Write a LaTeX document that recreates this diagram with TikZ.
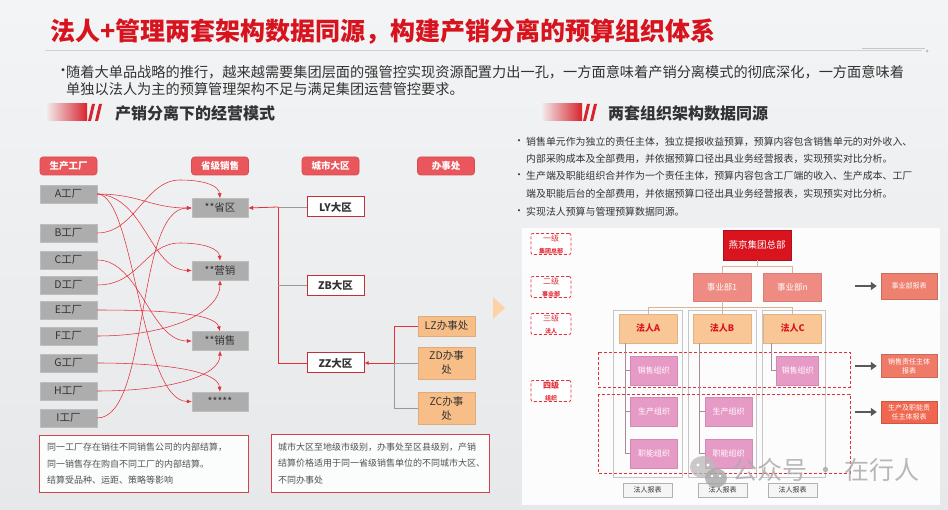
\documentclass[tikz,border=0pt]{standalone}
\usepackage{fontspec}
\setmainfont{Noto Sans CJK SC}
\usetikzlibrary{arrows.meta,shapes.geometric}
\newcommand\myfs[2]{\fontsize{#1}{#2}\selectfont}
\definecolor{bgtop}{HTML}{F3F4F5}
\definecolor{bgbot}{HTML}{E6E8EA}
\definecolor{titlered}{HTML}{D7131E}
\definecolor{headred}{HTML}{D8232D}
\definecolor{pillred}{HTML}{E9575D}
\definecolor{pillborder}{HTML}{D94A50}
\definecolor{boxgray}{HTML}{ADADAD}
\definecolor{textdark}{HTML}{333333}
\definecolor{citybord}{HTML}{C0303A}
\definecolor{offorange}{HTML}{F8BE87}
\definecolor{flred}{HTML}{E3303B}
\definecolor{notered}{HTML}{D6404A}
\definecolor{hqred}{HTML}{D9141F}
\definecolor{busalmon}{HTML}{EE8C84}
\definecolor{lporange}{HTML}{F9C796}
\definecolor{pinkorg}{HTML}{E69AC6}
\definecolor{treetan}{HTML}{D8B596}
\definecolor{rep1}{HTML}{EE8070}
\definecolor{rep2}{HTML}{EF7A68}
\definecolor{rep3}{HTML}{F0664E}
\tikzset{
  pill/.style={rectangle, rounded corners=3pt, fill=pillred, draw=pillborder, line width=0.6pt, text=white, font=\myfs{9.5}{11}\bfseries, minimum width=57pt, minimum height=18pt, inner sep=0pt},
  fac/.style={rectangle, fill=boxgray, draw=boxgray!80!white, text=textdark, font=\myfs{10.5}{12}, minimum width=57pt, minimum height=18pt, inner sep=0pt},
  sal/.style={fac, minimum width=56pt, minimum height=19pt},
  city/.style={rectangle, fill=white, draw=citybord, line width=1pt, font=\myfs{10.5}{12}\bfseries, text=textdark, minimum width=57pt, minimum height=20pt, inner sep=0pt},
  off/.style={rectangle, fill=offorange, draw=offorange!90!black, text=textdark, font=\myfs{10.5}{14}, minimum width=57pt, inner sep=0pt, align=center},
  fl/.style={draw=flred, line width=0.55pt, -{Latex[length=5pt,width=4pt]}},
  redl/.style={draw=flred, line width=0.8pt},
  grayl/.style={draw=gray!80, line width=0.8pt},
  note/.style={rectangle, draw=notered, line width=0.9pt, fill=white!70!bgtop, inner sep=0pt},
  notetext/.style={anchor=west, align=left, inner sep=0pt, text=textdark!85, font=\myfs{9}{16.5}},
  txt/.style={anchor=west, inner sep=0pt, text=textdark},
  lvl/.style={rectangle, rounded corners=2pt, draw=flred, densely dashed, line width=0.8pt, fill=white, text=flred, align=center, minimum width=40pt, minimum height=21pt, inner sep=0pt},
  hq/.style={rectangle, fill=hqred, draw=hqred!80!black, text=white, font=\myfs{9.5}{11}, minimum width=68pt, minimum height=30pt, inner sep=0pt},
  bu/.style={rectangle, fill=busalmon, draw=busalmon!90!black, text=white, font=\myfs{8.5}{10}, minimum width=58pt, minimum height=28pt, inner sep=0pt},
  lp/.style={rectangle, fill=lporange, draw=lporange!90!black, text=hqred, font=\myfs{9}{10}\bfseries, minimum width=58pt, minimum height=29pt, inner sep=0pt},
  pk/.style={rectangle, fill=pinkorg, draw=pinkorg!90!black, text=white, font=\myfs{8}{9}, minimum width=47pt, minimum height=29pt, inner sep=0pt},
  col/.style={draw=gray!45, line width=0.7pt},
  rdash/.style={draw=flred, densely dashed, line width=0.7pt},
  lrep/.style={rectangle, fill=gray!8, draw=gray!60, text=textdark, font=\myfs{7}{8}, minimum width=49pt, minimum height=14pt, inner sep=0pt},
  rep/.style={rectangle, draw=#1!85!black, fill=#1, text=white, font=\myfs{7}{9}, align=center, minimum width=56pt, inner sep=0pt},
  rarrow/.style={draw=gray!70!black, line width=2.6pt, -{Triangle[length=6pt,width=8pt]}, shorten >=4pt},
  tree/.style={draw=treetan, line width=0.8pt},
  orgl/.style={draw=gray!60!pinkorg, line width=0.8pt}
}
\begin{document}
\begin{tikzpicture}[x=1pt,y=-1pt]
\useasboundingbox (0,0) rectangle (948,510);
\shade[top color=bgtop, bottom color=bgbot] (0,0) rectangle (948,510);

% title
\node[txt, text=titlered, font=\myfs{25}{28}\bfseries] (title) at (50,32) {法人+管理两套架构数据同源，构建产销分离的预算组织体系};
\draw[gray!35, line width=1pt] (45,51) -- (922,51);
\draw[gray!45, line width=0.8pt] (862,48) -- (925,48);
\fill[gray!50] (927,51) circle (1.5);

% intro bullet
\node[txt, font=\myfs{14}{16}] (b0) at (56,72) {•};
\node[txt, font=\myfs{14.2}{16}] (b1) at (66,72) {随着大单品战略的推行，越来越需要集团层面的强管控实现资源配置力出一孔，一方面意味着产销分离模式的彻底深化，一方面意味着};
\node[txt, font=\myfs{14.2}{16}] (b2) at (66,89) {单独以法人为主的预算管理架构不足与满足集团运营管控要求。};

% section headers
\shade[left color=bgtop, right color=headred] (45,104) rectangle (87,121);
\fill[headred] (88,121) -- (92,104) -- (95,104) -- (91,121) -- cycle;
\fill[headred] (95,121) -- (99,104) -- (102,104) -- (98,121) -- cycle;
\node[txt, font=\myfs{16}{18}\bfseries] (s1) at (115,113) {产销分离下的经营模式};
\shade[left color=bgtop, right color=headred] (540,104) rectangle (582,121);
\fill[headred] (583,121) -- (587,104) -- (590,104) -- (586,121) -- cycle;
\fill[headred] (590,121) -- (594,104) -- (597,104) -- (593,121) -- cycle;
\node[txt, font=\myfs{16}{18}\bfseries] (s2) at (608,113) {两套组织架构数据同源};

% left diagram headers
\node[pill] (h1) at (68.5,166) {生产工厂};
\node[pill] (h2) at (220,166) {省级销售};
\node[pill] (h3) at (330.5,166) {城市大区};
\node[pill] (h4) at (446,166) {办事处};

% factories
\node[fac] (fA) at (68.5,194) {A工厂};
\node[fac] (fB) at (68.5,233) {B工厂};
\node[fac] (fC) at (68.5,260) {C工厂};
\node[fac] (fD) at (68.5,285) {D工厂};
\node[fac] (fE) at (68.5,310) {E工厂};
\node[fac] (fF) at (68.5,336) {F工厂};
\node[fac] (fG) at (68.5,363) {G工厂};
\node[fac] (fH) at (68.5,391) {H工厂};
\node[fac] (fI) at (68.5,418) {I工厂};

% sales
\node[sal] (sheng) at (220,208) {**省区};
\node[sal] (ying) at (220,270.5) {**营销};
\node[sal] (xiao) at (220,341) {**销售};
\node[sal] (star) at (220,401.5) {*****};

% factory -> sales curves
\draw[fl] (fA.east) .. controls (140,194) and (150,208) .. (sheng.west);
\draw[fl] (fA.east) .. controls (145,196) and (150,270) .. (ying.west);
\draw[fl] (fA.east) .. controls (135,194) and (140,401) .. (star.west);
\draw[fl] (fB.east) .. controls (135,233) and (145,180) .. (180,180) .. controls (205,180) and (219,186) .. (sheng.north);
\draw[fl] (fC.east) .. controls (140,260) and (150,341) .. (xiao.west);
\draw[fl] (fD.east) .. controls (140,285) and (145,243) .. (180,243) .. controls (205,243) and (219,249) .. (ying.north);
\draw[fl] (fE.east) .. controls (160,310) and (215,313) .. (xiao.north);
\draw[fl] (fF.east) .. controls (170,336) and (220,312) .. (ying.south);
\draw[fl] (fG.east) .. controls (160,363) and (218,370) .. (star.north);
\draw[fl] (fH.east) .. controls (170,391) and (220,376) .. (xiao.south);
\draw[fl] (fI.east) .. controls (150,418) and (135,208) .. (sheng.west);

% cities
\node[city] (LY) at (335.5,207) {LY大区};
\node[city] (ZB) at (335.5,285.5) {ZB大区};
\node[city] (ZZ) at (335.5,363) {ZZ大区};
\coordinate (c1) at (278,207);
\coordinate (c3) at (278,363);
\draw[grayl] (LY.west) -- (c1);
\draw[redl, -{Latex[length=5pt,width=4.5pt]}] (c1) -- (sheng.east);
\draw[redl] (c1) -- (c3);
\draw[grayl] (ZB.west) -- (ZB.west -| c1);
\draw[redl] (ZZ.west) -- (c3);

% offices
\node[off, minimum height=20pt] (LZ) at (446.5,326) {LZ办事处};
\node[off, minimum height=32pt] (ZD) at (446.5,363) {ZD办事\\处};
\node[off, minimum height=32pt] (ZC) at (446.5,408.5) {ZC办事\\处};
\coordinate (o1) at (394,326);
\coordinate (o2) at (394,363);
\coordinate (o3) at (394,408.5);
\draw[redl] (LZ.west) -- (o1) -- (o2);
\draw[grayl] (o2) -- (o3) -- (ZC.west);
\draw[grayl] (ZD.west) -- (o2);
\draw[redl, -{Latex[length=4pt,width=4pt]}] (o2) -- (ZZ.east);

% notes
\node[note, minimum width=209pt, minimum height=57pt, anchor=north west] (n1) at (39,435) {};
\node[notetext] (n1t) at ([xshift=8pt]n1.west) {同一工厂存在销往不同销售公司的内部结算，\\同一销售存在购自不同工厂的内部结算。\\结算受品种、运距、策略等影响};
\node[note, minimum width=218pt, minimum height=58pt, anchor=north west] (n2) at (271,434) {};
\node[notetext] (n2t) at ([xshift=7pt]n2.west) {城市大区至地级市级别，办事处至区县级别，产销\\结算价格适用于同一省级销售单位的不同城市大区、\\不同办事处};

% middle chevron
\fill[orange!35] (493,297) -- (505,308) -- (493,319) -- cycle;

% right bullets
\node[txt, font=\myfs{10}{12}] (rb1d) at (514,142) {•};
\node[txt, font=\myfs{9.9}{12}] (rb1) at (526,142) {销售单元作为独立的责任主体，独立提报收益预算，预算内容包含销售单元的对外收入、};
\node[txt, font=\myfs{9.9}{12}] (rb2) at (526,159) {内部采购成本及全部费用，并依据预算口径出具业务经营报表，实现预实对比分析。};
\node[txt, font=\myfs{10}{12}] (rb3d) at (514,176) {•};
\node[txt, font=\myfs{9.9}{12}] (rb3) at (526,176) {生产端及职能组织合并作为一个责任主体，预算内容包含工厂端的收入、生产成本、工厂};
\node[txt, font=\myfs{9.9}{12}] (rb4) at (526,194) {端及职能后台的全部费用，并依据预算口径出具业务经营报表，实现预实对比分析。};
\node[txt, font=\myfs{10}{12}] (rb5d) at (514,212) {•};
\node[txt, font=\myfs{9.9}{12}] (rb5) at (526,212) {实现法人预算与管理预算数据同源。};

% right panel
\fill[white!75!bgtop] (522,228) rectangle (940,505);

% level labels
\node[lvl] (l1) at (551,244) {{\myfs{8}{9}一级}\\{\myfs{6}{7}\bfseries 集团总部}};
\node[lvl] (l2) at (551,287) {{\myfs{8}{9}二级}\\{\myfs{6}{7}\bfseries 事业部}};
\node[lvl] (l3) at (551,324) {{\myfs{8}{9}三级}\\{\myfs{6}{7}\bfseries 法人}};
\node[lvl] (l4) at (551,391) {{\myfs{8}{9}\bfseries 四级}\\{\myfs{6}{7}\bfseries 组织}};

% column frames and dashed rows
\draw[col] (613,310) rectangle (682,477);
\draw[col] (688,310) rectangle (756,477);
\draw[col] (762,310) rectangle (825,477);
\draw[rdash] (598,352) rectangle (850,387);
\draw[rdash] (598,394) rectangle (850,473);

% org tree
\node[hq] (hq) at (757,245) {燕京集团总部};
\node[bu] (bu1) at (722,287) {事业部1};
\node[bu] (bun) at (792.5,287) {事业部n};
\node[lp] (la) at (648,328.5) {法人A};
\node[lp] (lb) at (722,328.5) {法人B};
\node[lp] (lc) at (792.5,328.5) {法人C};
\coordinate (j1) at (757,266);
\coordinate (j2) at (722,307);
\draw[tree] (hq.south) -- (j1);
\draw[tree] (bu1.north) -- (bu1.north |- j1) -- (bun.north |- j1) -- (bun.north);
\draw[tree] (bu1.south) -- (lb.north);
\draw[tree] (la.north) -- (la.north |- j2) -- (lc.north |- j2) -- (lc.north);

\node[pk] (sa) at (653.5,370.5) {销售组织};
\node[pk] (pa) at (654,411.5) {生产组织};
\node[pk] (fa) at (654,453.5) {职能组织};
\node[pk] (pb) at (728.5,411.5) {生产组织};
\node[pk] (fb) at (728.5,453.5) {职能组织};
\node[pk, minimum width=42pt] (sc) at (797.5,370.5) {销售组织};
\coordinate (va) at (625,343);
\coordinate (vb) at (699,343);
\coordinate (vc) at (771,343);
\draw[orgl] (va) |- (fa.west);
\draw[orgl] (va |- sa.west) -- (sa.west);
\draw[orgl] (va |- pa.west) -- (pa.west);
\draw[orgl] (vb) |- (fb.west);
\draw[orgl] (vb |- pb.west) -- (pb.west);
\draw[orgl] (vc) |- (sc.west);

\node[lrep] (ra) at (647.5,490) {法人报表};
\node[lrep] (rb) at (722.5,490) {法人报表};
\node[lrep] (rc) at (792.5,490) {法人报表};

% report boxes
\node[rep=rep1, minimum height=26pt] (rp1) at (909,286) {事业部报表};
\node[rep=rep2, minimum height=23pt] (rp2) at (909,366) {销售责任主体\\报表};
\node[rep=rep3, minimum height=22pt] (rp3) at (909,412) {生产及职能责\\任主体报表};
\coordinate (a1) at (855,286);
\coordinate (a2) at (855,366);
\coordinate (a3) at (855,412);
\draw[rarrow] (a1) -- (rp1.west);
\draw[rarrow] (a2) -- (rp2.west);
\draw[rarrow] (a3) -- (rp3.west);

% watermark
\fill[gray!55, opacity=0.75] (703,467) ellipse (13 and 11);
\fill[gray!70, opacity=0.8] (716,478) ellipse (11 and 9.5);
\fill[white] (698,465) circle (1.6) (708,465) circle (1.6) (712,476) circle (1.3) (720,476) circle (1.3);
\node[font=\myfs{25}{28}, text=gray!65, opacity=0.85, inner sep=0pt] (wm) at (826,470) {公众号 · 在行人};
\end{tikzpicture}
\end{document}
